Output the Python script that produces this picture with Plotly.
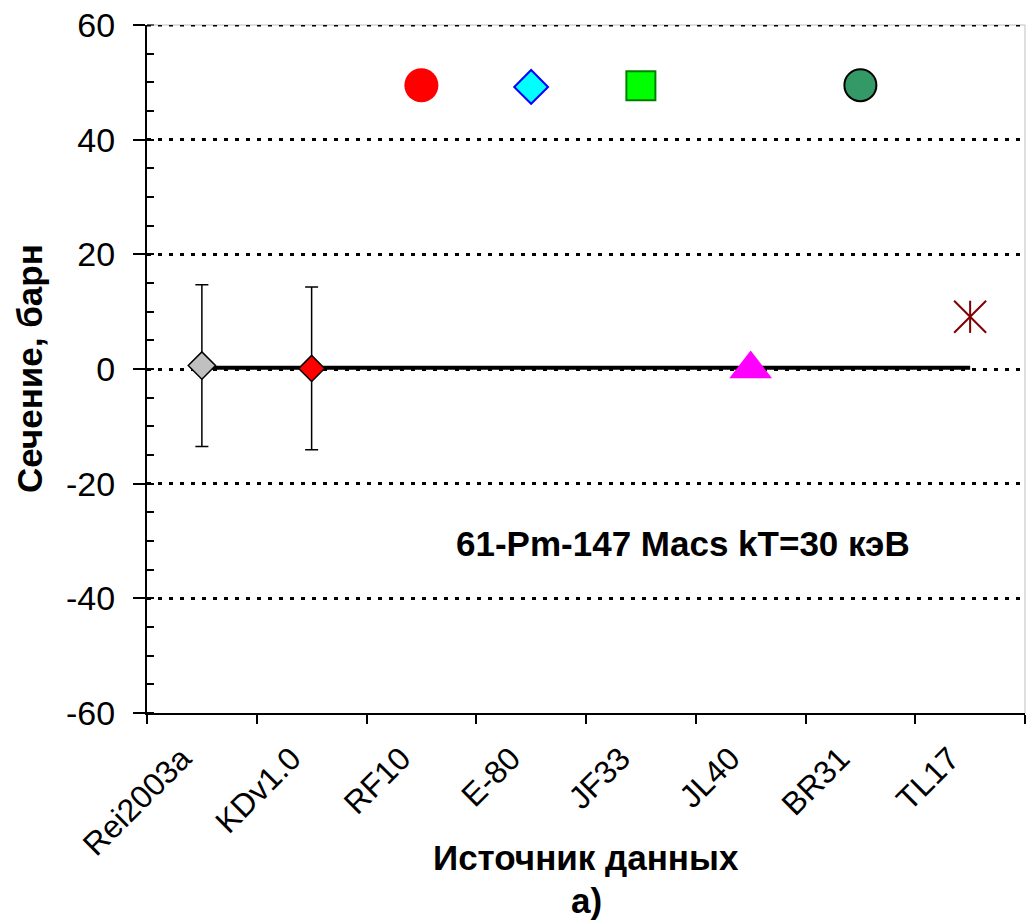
import plotly.graph_objects as go

# ---- data ----
sources = ["Rei2003a", "KDv1.0", "RF10", "E-80", "JF33", "JL40", "BR31", "TL17"]
sigma_values = [0.6, 0.1, 49.5, 49.2, 49.4, 0.0, 49.5, 9.1]
sigma_errors = [14.1, 14.2, 0, 0, 0, 0, 0, 0]
mean_sigma = 0.2
y_ticks = [-60, -40, -20, 0, 20, 40, 60]
y_tick_labels = ["-60", "-40", "-20", "0", "20", "40", "60"]

# ---- styles ----
styles = [
    dict(symbol="diamond", size=21, color="#C0C0C0", line=dict(color="black", width=1.5)),
    dict(symbol="diamond", size=20, color="#FF0000", line=dict(color="black", width=1.5)),
    dict(symbol="circle", size=34, color="#FF0000", line=dict(width=0)),
    dict(symbol="diamond", size=26, color="#00FFFF", line=dict(color="#0000FF", width=2)),
    dict(symbol="square", size=29, color="#00FF00", line=dict(color="#008000", width=2)),
    dict(symbol="triangle-up", size=37, color="#FF00FF", line=dict(width=0)),
    dict(symbol="circle", size=32, color="#339966", line=dict(color="black", width=2)),
    dict(symbol="x-thin-open", size=32, color="#800000", line=dict(color="#800000", width=2)),
]

FONT = "Arial, Liberation Sans, sans-serif"

fig = go.Figure()

# mean line
fig.add_trace(go.Scatter(
    x=[sources[0], sources[-1]], y=[mean_sigma, mean_sigma],
    mode="lines", line=dict(color="black", width=4), hoverinfo="skip"))

for i, (s, v, e) in enumerate(zip(sources, sigma_values, sigma_errors)):
    fig.add_trace(go.Scatter(
        x=[s], y=[v], mode="markers", marker=styles[i],
        error_y=dict(type="data", array=[e], visible=e > 0,
                     color="black", thickness=1.5, width=6.5)))

# vertical arm of TL17 asterisk marker
fig.add_trace(go.Scatter(
    x=[sources[7]], y=[sigma_values[7]], mode="markers",
    marker=dict(symbol="line-ns-open", size=23, color="#800000",
                line=dict(color="#800000", width=2))))

fig.update_layout(
    width=1026, height=923,
    margin=dict(l=147, r=1, t=25, b=210),
    paper_bgcolor="white", plot_bgcolor="white",
    showlegend=False,
    font=dict(family=FONT, color="black"),
    xaxis=dict(
        type="category", categoryorder="array", categoryarray=sources,
        range=[-0.5, 7.5], tickson="boundaries",
        ticks="outside", ticklen=9, tickwidth=2, tickcolor="black",
        showline=True, linecolor="black", linewidth=2,
        tickangle=-45, tickfont=dict(size=32, family=FONT),
        ticklabelshift=-20, ticklabelstandoff=12,
        showgrid=False, zeroline=False),
    yaxis=dict(
        range=[-60, 60], tickvals=y_ticks, ticktext=y_tick_labels,
        ticks="outside", ticklen=12, tickwidth=2, tickcolor="black",
        showline=True, linecolor="black", linewidth=2,
        showgrid=True, gridcolor="black", gridwidth=3, griddash="4px,7px",
        zeroline=False, tickfont=dict(size=34, family=FONT),
        ticklabelstandoff=11,
        minor=dict(dtick=5, ticks="inside", ticklen=7, tickwidth=2,
                   tickcolor="black", showgrid=False)),
    shapes=[
        dict(type="line", xref="paper", yref="paper", x0=0, x1=1, y0=1, y1=1,
             line=dict(color="#BFBFBF", width=1)),
        dict(type="line", xref="paper", yref="paper", x0=1, x1=1, y0=0, y1=1,
             line=dict(color="#BFBFBF", width=1)),
        dict(type="line", xref="paper", yref="y", x0=0, x1=1,
             y0=y_ticks[-1], y1=y_ticks[-1],
             line=dict(color="black", width=3, dash="4px,7px")),
    ],
    annotations=[
        dict(text="<b>61-Pm-147 Macs kT=30 кэВ</b>", xref="paper", yref="y",
             x=0.6105, y=-30.5, showarrow=False, font=dict(size=35, family=FONT),
             xanchor="center", yanchor="middle"),
        dict(text="<b>Сечение, барн</b>", xref="paper", yref="paper",
             x=0, y=0.5, xshift=-118, textangle=-90, showarrow=False,
             font=dict(size=35, family=FONT), xanchor="center", yanchor="middle"),
        dict(text="<b>Источник данных</b>", xref="paper", yref="paper",
             x=0.5, y=0, yshift=-144, showarrow=False,
             font=dict(size=35, family=FONT), xanchor="center", yanchor="middle"),
        dict(text="<b>а)</b>", xref="paper", yref="paper",
             x=0.5, y=0, yshift=-187, showarrow=False,
             font=dict(size=35, family=FONT), xanchor="center", yanchor="middle"),
    ],
)

fig.write_html("out.html")
